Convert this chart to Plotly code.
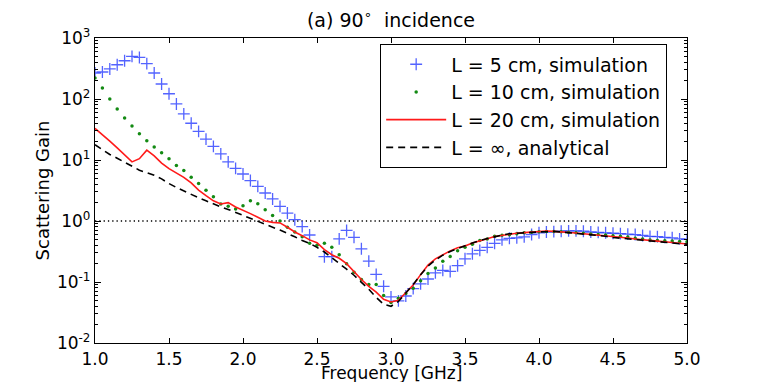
import numpy as np
import plotly.graph_objects as go

# frequency grid of the simulations, GHz (step 0.05)
freq = np.round(np.linspace(1.0, 5.0, 81), 2)

gain_5cm = [267, 277, 311, 364, 424, 500, 480, 380, 267, 176,
            122, 83, 57, 40, 29.5, 22, 16.7, 12.6, 9.3, 7.3,
            5.9, 4.6, 3.7, 2.88, 2.3, 1.74, 1.35, 1.05, 0.81, 0.59,
            None, 0.26, 0.26, 0.51, 0.70, 0.54, 0.35, 0.22, 0.133, 0.085,
            0.057, 0.049, 0.059, 0.078, 0.093, 0.112, 0.141, 0.155, 0.149, 0.185,
            0.24, 0.29, 0.33, 0.37, 0.43, 0.49, 0.52, 0.53, 0.55, 0.60,
            0.64, 0.66, 0.67, 0.68, 0.69, 0.69, 0.68, 0.66, 0.65, 0.64,
            0.63, 0.62, 0.61, 0.60, 0.58, 0.56, 0.555, 0.54, 0.53, 0.51,
            0.50]

gain_10cm = [220, 151, 100, 68.5, 49, 36, 27, 20.7, 16.3, 13.2,
             10.5, 8.1, 6.7, 5.2, 4.1, 3.2, 2.5, 1.9, 1.75, 1.58,
             1.78, 2.15, 1.92, 1.53, 1.23, 1.0, 0.79, 0.66, 0.55, 0.43,
             0.40, 0.43, 0.37, 0.28, 0.20, 0.145, 0.11, 0.091, 0.091, 0.06,
             0.046, 0.054, 0.065, 0.079, 0.105, 0.138, 0.17, 0.219, 0.263, 0.324,
             0.372, 0.417, 0.479, 0.507, 0.562, 0.582, 0.596, 0.62, 0.64, 0.655,
             0.665, 0.67, 0.67, 0.665, 0.655, 0.64, 0.63, 0.615, 0.60, 0.59,
             0.575, 0.56, 0.545, 0.52, 0.505, 0.49, 0.48, 0.473, 0.468, 0.461,
             0.455]

gain_20cm = [33, 26.3, 20.4, 15.8, 12.0, 9.3, 10.5, 14.5, 11.7, 8.9,
             7.2, 6.2, 5.2, 4.2, 3.2, 2.6, 2.14, 1.9, 2.0, 1.7,
             1.51, 1.32, 1.15, 1.0, 0.95, 0.93, 0.79, 0.66, 0.575, 0.49,
             0.44, 0.34, 0.28, 0.245, 0.20, 0.148, 0.110, 0.085, 0.068, 0.052,
             0.047, 0.050, 0.066, 0.089, 0.132, 0.19, 0.24, 0.28, 0.324, 0.363,
             0.39, 0.437, 0.479, 0.513, 0.556, 0.582, 0.61, 0.63, 0.646, 0.661,
             0.676, 0.684, 0.676, 0.668, 0.653, 0.636, 0.617, 0.603, 0.582, 0.569,
             0.55, 0.537, 0.525, 0.507, 0.49, 0.479, 0.468, 0.457, 0.442, 0.431,
             0.42]

gain_inf = [17.8, 14.8, 12.3, 10.7, 9.1, 7.9, 6.8, 6.2, 5.6, 4.9,
            4.1, 3.55, 3.1, 2.75, 2.4, 2.14, 1.9, 1.7, 1.55, 1.38,
            1.23, 1.1, 0.98, 0.89, 0.79, 0.71, 0.63, 0.55, 0.48, 0.43,
            0.37, 0.31, 0.25, 0.204, 0.162, 0.129, 0.100, 0.076, 0.056, 0.043,
            0.040, 0.048, 0.066, 0.091, 0.132, 0.182, 0.229, 0.275, 0.316, 0.355,
            0.389, 0.437, 0.479, 0.513, 0.562, 0.589, 0.617, 0.631, 0.646, 0.653,
            0.661, 0.668, 0.676, 0.661, 0.646, 0.631, 0.617, 0.596, 0.581, 0.562,
            0.537, 0.525, 0.513, 0.501, 0.484, 0.479, 0.462, 0.447, 0.437, 0.422,
            0.417]

unity_x = [1.0, 5.0]
unity_y = [1.0, 1.0]

ytick_vals = [0.01, 0.1, 1, 10, 100, 1000]
ytick_text = ["10<sup>-2</sup>", "10<sup>-1</sup>", "10<sup>0</sup>",
              "10<sup>1</sup>", "10<sup>2</sup>", "10<sup>3</sup>"]
minor_vals = [m * d for d in [0.01, 0.1, 1, 10, 100] for m in range(2, 10)]

FONT = "DejaVu Sans, Arial, sans-serif"
BLUE = "rgba(40,60,255,0.8)"

fig = go.Figure()

fig.add_trace(go.Scatter(
    x=unity_x, y=unity_y, mode="lines",
    line=dict(color="black", width=1.3, dash="1.3px,3px"),
    showlegend=False, hoverinfo="skip"))

fig.add_trace(go.Scatter(
    x=freq, y=gain_5cm, mode="markers", name="L = 5 cm, simulation",
    marker=dict(symbol="cross-thin", size=8.5, color=BLUE,
                line=dict(width=1.3, color=BLUE))))

fig.add_trace(go.Scatter(
    x=freq, y=gain_10cm, mode="markers", name="L = 10 cm, simulation",
    marker=dict(symbol="circle", size=3.5, color="#138a13")))

fig.add_trace(go.Scatter(
    x=freq, y=gain_20cm, mode="lines", name="L = 20 cm, simulation",
    line=dict(color="#ff1a1a", width=1.6)))

fig.add_trace(go.Scatter(
    x=freq, y=gain_inf, mode="lines", name="L = \u221e, analytical",
    line=dict(color="black", width=1.6, dash="7px,5px")))

# the page body has an 8px margin, so the figure is sized to the rest of the window
fig.update_layout(
    width=755, height=374,
    margin=dict(l=87, r=76, t=30, b=39),
    paper_bgcolor="white", plot_bgcolor="white",
    font=dict(family=FONT, size=17, color="black"),
    title=dict(text="(a) 90<sup>\u2218</sup>  incidence", x=0.5, xref="paper",
               xanchor="center", y=0.968, yanchor="middle",
               font=dict(size=19)),
    legend=dict(x=0.966, y=0.98, xanchor="right", yanchor="top",
                bgcolor="white", bordercolor="black", borderwidth=1.3,
                font=dict(size=19), itemwidth=60, tracegroupgap=0),
    showlegend=True,
)

# x title sits low, partly cut by the bottom edge like the original
fig.add_annotation(text="Frequency [GHz]", xref="paper", yref="paper",
                   x=0.5, y=-0.058, xanchor="center", yanchor="top",
                   showarrow=False, font=dict(size=17))

fig.update_xaxes(
    range=[1.0, 5.0], dtick=0.5, tickformat=".1f", automargin=False,
    showline=True, linecolor="black", linewidth=1.3, mirror="allticks",
    ticks="inside", ticklen=5, tickcolor="black",
    showgrid=False, zeroline=False,
)

fig.update_yaxes(
    type="log", range=[-2, 3], tickmode="array", automargin=False,
    tickvals=ytick_vals, ticktext=ytick_text,
    showline=True, linecolor="black", linewidth=1.3, mirror="allticks",
    ticks="inside", ticklen=6, tickcolor="black",
    minor=dict(ticks="inside", ticklen=3, tickcolor="black",
               tickmode="array", tickvals=minor_vals),
    showgrid=False, zeroline=False,
    title=dict(text="Scattering Gain", font=dict(size=18), standoff=2),
)

fig.write_html("out.html")
